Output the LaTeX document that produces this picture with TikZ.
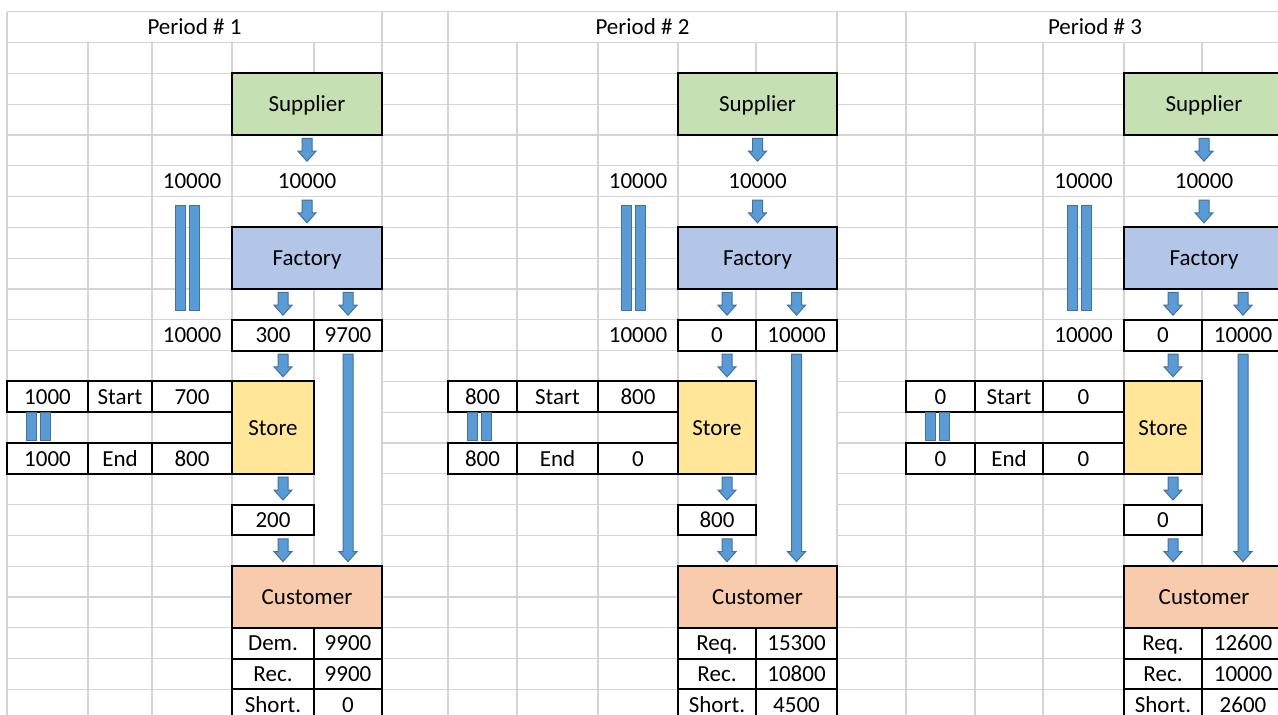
\documentclass[tikz,border=0pt]{standalone}
\usepackage{fontspec}
\setmainfont{Carlito}
\usetikzlibrary{calc, positioning}
\definecolor{gridgray}{HTML}{D4D4D4}
\definecolor{supgreen}{HTML}{C6E0B4}
\definecolor{facblue}{HTML}{B4C6E7}
\definecolor{stoyellow}{HTML}{FFE699}
\definecolor{cusorange}{HTML}{F8CBAD}
\definecolor{flowfill}{HTML}{5B9BD5}
\definecolor{flowedge}{HTML}{41719C}
\tikzstyle{cell}=[inner sep=0pt, outer sep=0pt, minimum height=30.8pt, text height=19pt, text depth=3.6pt, font=\fontsize{23}{27}\selectfont]
\tikzstyle{boxed}=[cell, draw, line width=2pt]
\tikzstyle{stage}=[boxed, minimum height=61.6pt]
\tikzstyle{gridline}=[gridgray, line width=1.2pt]
\tikzset{
  flow/.style={draw=flowedge, fill=flowfill, line width=1pt, to path={
    let \p1=(\tikztostart), \p2=(\tikztotarget) in
    (\x2+#1-5pt,\y1-3.5pt) -- (\x2+#1-5pt,\y2+14.5pt) -- (\x2+#1-9pt,\y2+14.5pt)
    -- (\x2+#1,\y2+4.5pt) -- (\x2+#1+9pt,\y2+14.5pt) -- (\x2+#1+5pt,\y2+14.5pt)
    -- (\x2+#1+5pt,\y1-3.5pt) -- cycle}},
  flow/.default=0pt,
  equal/.style n args={3}{draw=flowedge, fill=flowfill, line width=1pt, to path={
    let \p1=(\tikztostart), \p2=(\tikztotarget) in
    (\x2+#1-12pt,\y1-#2) rectangle (\x2+#1-2pt,\y2+#3)
    (\x2+#1+2pt,\y1-#2) rectangle (\x2+#1+12pt,\y2+#3)}}
}

\begin{document}
\begin{tikzpicture}[x=1pt, y=-1pt]
    \path[use as bounding box] (0,0) rectangle (1278,715);
    \clip (0,0) rectangle (1278,715);

    % sheet grid
    \foreach \k in {0,...,11,18,19,...,22}
        \draw[gridline] (7,{11.7+30.8*\k}) -- (1278,{11.7+30.8*\k});
    \foreach \k in {12,...,17} {
        \draw[gridline] (7,{11.7+30.8*\k}) -- (314,{11.7+30.8*\k});
        \draw[gridline] (382,{11.7+30.8*\k}) -- (756,{11.7+30.8*\k});
        \draw[gridline] (837,{11.7+30.8*\k}) -- (1202,{11.7+30.8*\k});
    }
    \foreach \x in {7,382,448,837,906}
        \draw[gridline] (\x,11.7) -- (\x,715);
    \foreach \x in {88,152,232,517,598,678,975,1043,1124}
        \draw[gridline] (\x,42.5) -- (\x,715);
    \foreach \x in {314,756,1202} {
        \draw[gridline] (\x,42.5) -- (\x,134.9);
        \draw[gridline] (\x,227.3) -- (\x,715);
    }

    % Period 1
    \node[cell, minimum width=375pt] (per1) at (194.5,27.1) {Period \# 1};
    \node[stage, fill=supgreen, minimum width=150pt] (sup1) at (307,104.1) {Supplier};
    \node[cell, minimum width=80pt] (in1) at (192,181.1) {10000};
    \node[cell, minimum width=150pt] (q1) at (307,181.1) {10000};
    \node[stage, fill=facblue, minimum width=150pt] (fac1) at (307,258.1) {Factory};
    \node[cell, minimum width=80pt] (out1) at (192,335.1) {10000};
    \node[boxed, minimum width=82pt] (st1) at (273,335.1) {300};
    \node[boxed, minimum width=68pt, right=0pt of st1] (dc1) {9700};
    \node[boxed, minimum width=81pt] (sa1) at (47.5,396.7) {1000};
    \node[boxed, minimum width=64pt, right=0pt of sa1] (sb1) {Start};
    \node[boxed, minimum width=80pt, right=0pt of sb1] (sc1) {700};
    \node[boxed, minimum width=81pt] (ea1) at (47.5,458.3) {1000};
    \node[boxed, minimum width=64pt, right=0pt of ea1] (eb1) {End};
    \node[boxed, minimum width=80pt, right=0pt of eb1] (ec1) {800};
    \node[boxed, fill=stoyellow, minimum width=82pt, minimum height=92.4pt] (sto1) at (273,427.5) {Store};
    \node[boxed, minimum width=82pt] (sh1) at (273,519.9) {200};
    \node[stage, fill=cusorange, minimum width=150pt] (cus1) at (307,596.9) {Customer};
    \node[boxed, minimum width=82pt] (ra1) at (273,643.1) {Dem.};
    \node[boxed, minimum width=68pt, right=0pt of ra1] (rb1) {9900};
    \node[boxed, minimum width=82pt, below=0pt of ra1] (rc1) {Rec.};
    \node[boxed, minimum width=68pt, right=0pt of rc1] (rd1) {9900};
    \node[boxed, minimum width=82pt, below=0pt of rc1] (re1) {Short.};
    \node[boxed, minimum width=68pt, right=0pt of re1] (rf1) {0};

    \draw[flow] (sup1.south) to (q1.north);
    \draw[flow] (q1.south) to (fac1.north);
    \draw[flow=10pt] (fac1.south) to (st1.north);
    \draw[flow] (fac1.south) to (dc1.north);
    \draw[flow=10pt] (st1.south) to (sto1.north);
    \draw[flow] (dc1.south) to (dc1.south |- cus1.north);
    \draw[flow=10pt] (sto1.south) to (sh1.north);
    \draw[flow=10pt] (sh1.south) to (sh1.south |- cus1.north);
    \draw[equal={-4.5pt}{8.5pt}{9.5pt}] (in1.south) to (out1.north);
    \draw[equal={-9pt}{0.5pt}{2.3pt}] (sa1.south) to (ea1.north);

    % Period 2
    \node[cell, minimum width=389pt] (per2) at (642.5,27.1) {Period \# 2};
    \node[stage, fill=supgreen, minimum width=159pt] (sup2) at (757.5,104.1) {Supplier};
    \node[cell, minimum width=80pt] (in2) at (638,181.1) {10000};
    \node[cell, minimum width=159pt] (q2) at (757.5,181.1) {10000};
    \node[stage, fill=facblue, minimum width=159pt] (fac2) at (757.5,258.1) {Factory};
    \node[cell, minimum width=80pt] (out2) at (638,335.1) {10000};
    \node[boxed, minimum width=78pt] (st2) at (717,335.1) {0};
    \node[boxed, minimum width=81pt, right=0pt of st2] (dc2) {10000};
    \node[boxed, minimum width=69pt] (sa2) at (482.5,396.7) {800};
    \node[boxed, minimum width=81pt, right=0pt of sa2] (sb2) {Start};
    \node[boxed, minimum width=80pt, right=0pt of sb2] (sc2) {800};
    \node[boxed, minimum width=69pt] (ea2) at (482.5,458.3) {800};
    \node[boxed, minimum width=81pt, right=0pt of ea2] (eb2) {End};
    \node[boxed, minimum width=80pt, right=0pt of eb2] (ec2) {0};
    \node[boxed, fill=stoyellow, minimum width=78pt, minimum height=92.4pt] (sto2) at (717,427.5) {Store};
    \node[boxed, minimum width=78pt] (sh2) at (717,519.9) {800};
    \node[stage, fill=cusorange, minimum width=159pt] (cus2) at (757.5,596.9) {Customer};
    \node[boxed, minimum width=78pt] (ra2) at (717,643.1) {Req.};
    \node[boxed, minimum width=81pt, right=0pt of ra2] (rb2) {15300};
    \node[boxed, minimum width=78pt, below=0pt of ra2] (rc2) {Rec.};
    \node[boxed, minimum width=81pt, right=0pt of rc2] (rd2) {10800};
    \node[boxed, minimum width=78pt, below=0pt of rc2] (re2) {Short.};
    \node[boxed, minimum width=81pt, right=0pt of re2] (rf2) {4500};

    \draw[flow] (sup2.south) to (q2.north);
    \draw[flow] (q2.south) to (fac2.north);
    \draw[flow=10pt] (fac2.south) to (st2.north);
    \draw[flow] (fac2.south) to (dc2.north);
    \draw[flow=10pt] (st2.south) to (sto2.north);
    \draw[flow] (dc2.south) to (dc2.south |- cus2.north);
    \draw[flow=10pt] (sto2.south) to (sh2.north);
    \draw[flow=10pt] (sh2.south) to (sh2.south |- cus2.north);
    \draw[equal={-4.7pt}{8.5pt}{9.5pt}] (in2.south) to (out2.north);
    \draw[equal={-3.3pt}{0.5pt}{2.3pt}] (sa2.south) to (ea2.north);

    % Period 3
    \node[cell, minimum width=378pt] (per3) at (1095,27.1) {Period \# 3};
    \node[stage, fill=supgreen, minimum width=160pt] (sup3) at (1204,104.1) {Supplier};
    \node[cell, minimum width=81pt] (in3) at (1083.5,181.1) {10000};
    \node[cell, minimum width=160pt] (q3) at (1204,181.1) {10000};
    \node[stage, fill=facblue, minimum width=160pt] (fac3) at (1204,258.1) {Factory};
    \node[cell, minimum width=81pt] (out3) at (1083.5,335.1) {10000};
    \node[boxed, minimum width=78pt] (st3) at (1163,335.1) {0};
    \node[boxed, minimum width=82pt, right=0pt of st3] (dc3) {10000};
    \node[boxed, minimum width=69pt] (sa3) at (940.5,396.7) {0};
    \node[boxed, minimum width=68pt, right=0pt of sa3] (sb3) {Start};
    \node[boxed, minimum width=81pt, right=0pt of sb3] (sc3) {0};
    \node[boxed, minimum width=69pt] (ea3) at (940.5,458.3) {0};
    \node[boxed, minimum width=68pt, right=0pt of ea3] (eb3) {End};
    \node[boxed, minimum width=81pt, right=0pt of eb3] (ec3) {0};
    \node[boxed, fill=stoyellow, minimum width=78pt, minimum height=92.4pt] (sto3) at (1163,427.5) {Store};
    \node[boxed, minimum width=78pt] (sh3) at (1163,519.9) {0};
    \node[stage, fill=cusorange, minimum width=160pt] (cus3) at (1204,596.9) {Customer};
    \node[boxed, minimum width=78pt] (ra3) at (1163,643.1) {Req.};
    \node[boxed, minimum width=82pt, right=0pt of ra3] (rb3) {12600};
    \node[boxed, minimum width=78pt, below=0pt of ra3] (rc3) {Rec.};
    \node[boxed, minimum width=82pt, right=0pt of rc3] (rd3) {10000};
    \node[boxed, minimum width=78pt, below=0pt of rc3] (re3) {Short.};
    \node[boxed, minimum width=82pt, right=0pt of re3] (rf3) {2600};

    \draw[flow] (sup3.south) to (q3.north);
    \draw[flow] (q3.south) to (fac3.north);
    \draw[flow=10pt] (fac3.south) to (st3.north);
    \draw[flow] (fac3.south) to (dc3.north);
    \draw[flow=10pt] (st3.south) to (sto3.north);
    \draw[flow] (dc3.south) to (dc3.south |- cus3.north);
    \draw[flow=10pt] (sto3.south) to (sh3.north);
    \draw[flow=10pt] (sh3.south) to (sh3.south |- cus3.north);
    \draw[equal={-4.5pt}{8.5pt}{9.5pt}] (in3.south) to (out3.north);
    \draw[equal={-3.2pt}{0.5pt}{2.3pt}] (sa3.south) to (ea3.north);

\end{tikzpicture}
\end{document}
